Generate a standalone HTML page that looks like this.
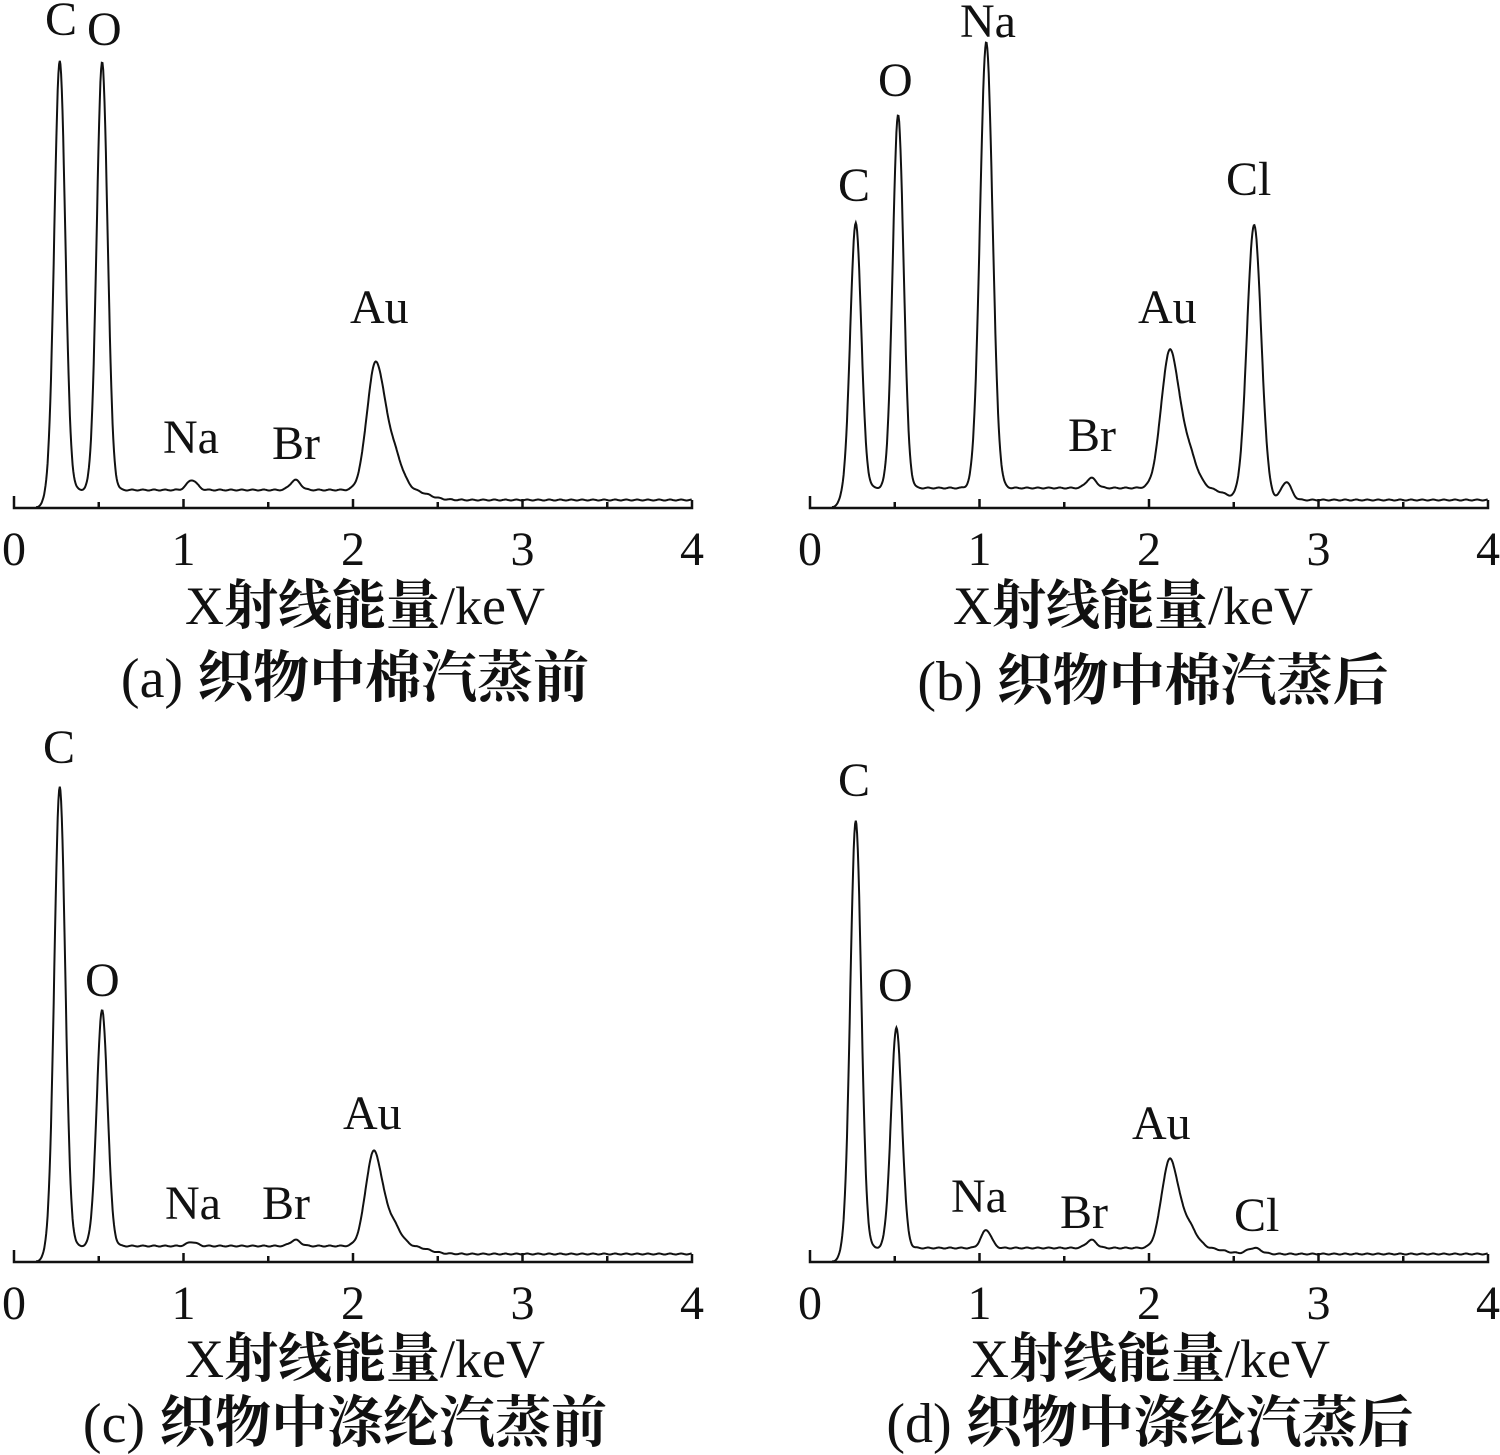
<!DOCTYPE html>
<html><head><meta charset="utf-8"><style>
html,body{margin:0;padding:0;background:#fff}
svg{display:block}
text{font-family:"Liberation Serif","Noto Serif CJK SC",serif;fill:#111}
.b{font-weight:700}
</style></head><body>
<svg id="s" width="1500" height="1455" viewBox="0 0 1500 1455" xmlns="http://www.w3.org/2000/svg">
<g font-size="48">
<text x="45" y="35">C</text><text x="87" y="45">O</text>
<text x="163" y="453">Na</text><text x="272" y="459">Br</text><text x="350" y="323">Au</text>
<text x="960" y="37">Na</text><text x="878" y="96">O</text><text x="838" y="201">C</text>
<text x="1226" y="195">Cl</text><text x="1138" y="323">Au</text><text x="1068" y="451">Br</text>
<text x="43" y="763">C</text><text x="85" y="996">O</text>
<text x="165" y="1219">Na</text><text x="262" y="1219">Br</text><text x="343" y="1129">Au</text>
<text x="838" y="796">C</text><text x="878" y="1001">O</text>
<text x="951" y="1212">Na</text><text x="1060" y="1228">Br</text><text x="1132" y="1139">Au</text><text x="1234" y="1231">Cl</text>
</g>
<g id="axes" stroke="#111" stroke-width="2.5" fill="none"></g>
<g id="curves" stroke="#111" stroke-width="2" fill="none"></g>
<g font-size="48" text-anchor="middle" id="ticks"></g>
<g font-size="54" text-anchor="middle">
<text x="365" y="624">X<tspan class="b">射线能量</tspan>/keV</text>
<text x="1133" y="624">X<tspan class="b">射线能量</tspan>/keV</text>
<text x="365" y="1377">X<tspan class="b">射线能量</tspan>/keV</text>
<text x="1150" y="1377">X<tspan class="b">射线能量</tspan>/keV</text>
</g>
<g font-size="56" text-anchor="middle">
<text x="355" y="697">(a) <tspan class="b">织物中棉汽蒸前</tspan></text>
<text x="1153" y="700">(b) <tspan class="b">织物中棉汽蒸后</tspan></text>
<text x="345" y="1442">(c) <tspan class="b">织物中涤纶汽蒸前</tspan></text>
<text x="1150" y="1442">(d) <tspan class="b">织物中涤纶汽蒸后</tspan></text>
</g>
</svg>
<script>
var NS="http://www.w3.org/2000/svg";
var panels=[
 {x0:14,ay:508,base:18,peaks:[[0.27,430,0.032],[0.52,428,0.032],[1.05,10,0.03],[1.66,10,0.03],[2.13,120,0.05],[2.23,40,0.055]]},
 {x0:810,ay:508,base:20,peaks:[[0.27,266,0.032],[0.52,373,0.032],[1.04,446,0.037],[1.66,10,0.03],[2.12,130,0.05],[2.22,40,0.055],[2.62,275,0.042],[2.81,18,0.03]]},
 {x0:14,ay:1262,base:16,peaks:[[0.27,460,0.032],[0.52,236,0.032],[1.05,4,0.03],[1.66,6,0.03],[2.12,90,0.047],[2.22,25,0.055]]},
 {x0:810,ay:1262,base:14,peaks:[[0.27,428,0.032],[0.51,220,0.032],[1.04,18,0.03],[1.66,8,0.03],[2.12,84,0.047],[2.22,25,0.055],[2.62,6,0.04]]}
];
var sc=169.5;
var ax=document.getElementById("axes"),cv=document.getElementById("curves"),tk=document.getElementById("ticks");
panels.forEach(function(p){
 var d="M"+p.x0+" "+(p.ay-12)+"V"+p.ay+"H"+(p.x0+4*sc)+"V"+(p.ay-8);
 for(var i=1;i<8;i++){var x=p.x0+i*sc/2;d+="M"+x+" "+p.ay+"v"+(i%2?-6:-9);}
 var pa=document.createElementNS(NS,"path");pa.setAttribute("d",d);ax.appendChild(pa);
 for(var k=0;k<=4;k++){var t=document.createElementNS(NS,"text");t.setAttribute("x",p.x0+k*sc);t.setAttribute("y",p.ay+57);t.textContent=k;tk.appendChild(t);}
 var s="";
 for(var E=0.13;E<=4;E+=0.004){
  var bg=p.base*(1/(1+Math.exp(-(E-0.19)/0.02)));
  bg-=(p.base-8)*(1/(1+Math.exp(-(E-2.45)/0.04)));
  if(E<0.19) bg=Math.max(0,bg);
  var y=p.ay-bg;
  p.peaks.forEach(function(q){y-=q[1]*Math.exp(-Math.pow(E-q[0],2)/(2*q[2]*q[2]));});
  y+=Math.sin(E*97)*0.5;
  s+=(s?"L":"M")+(p.x0+E*sc).toFixed(1)+" "+y.toFixed(1);
 }
 var c=document.createElementNS(NS,"path");c.setAttribute("d",s);cv.appendChild(c);
});
</script>
</body></html>
